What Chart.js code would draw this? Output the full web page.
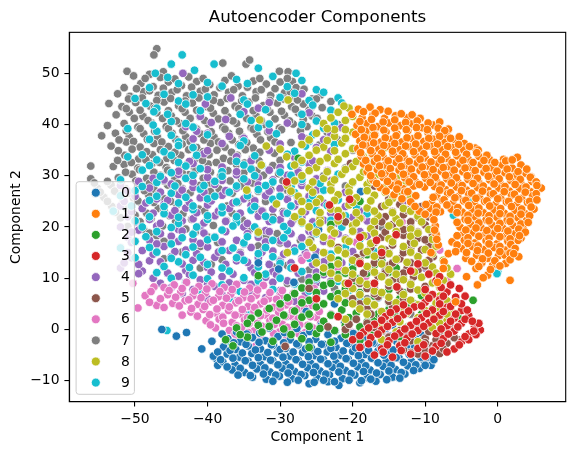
<!DOCTYPE html>
<html><head><meta charset="utf-8">
<script src="https://cdn.jsdelivr.net/npm/chart.js@4.4.1/dist/chart.umd.min.js"></script>
<style>html,body{margin:0;padding:0;background:#fff;}canvas{display:block;}</style>
</head><body>
<canvas id="c" width="574" height="455"></canvas>
<script>
const classLabels = ['0','1','2','3','4','5','6','7','8','9'];
const classColors = ['#1f77b4','#ff7f0e','#2ca02c','#d62728','#9467bd','#8c564b','#e377c2','#7f7f7f','#bcbd22','#17becf'];
const xTicks = [-50,-40,-30,-20,-10,0];
const yTicks = [-10,0,10,20,30,40,50];

const class0 = [
[-46.3,0.0],[-44.3,-1.3],[-42.9,-0.6],[-40.8,-3.8],[-39.4,-2.3],[-38.8,-5.7],[-38.6,-7.0],
[-37.2,-1.8],[-35.5,-2.4],[-33.8,-1.6],[-32.0,-2.2],[-30.3,-1.4],[-28.6,-2.0],[-26.8,-1.2],[-25.1,-1.9],[-23.4,-1.0],[-21.6,-1.7],[-19.9,-0.8],[-18.2,-1.5],[-16.4,-0.6],[-14.7,-1.3],
[-37.8,-3.4],[-36.1,-3.9],[-34.4,-3.2],[-32.7,-3.8],[-30.9,-3.1],[-29.2,-3.7],[-27.5,-3.0],[-25.7,-3.6],[-24.0,-2.9],[-22.3,-3.5],[-20.5,-2.8],[-18.8,-3.4],[-17.1,-2.7],[-15.3,-3.3],[-13.6,-2.6],[-11.9,-3.2],[-10.1,-2.5],
[-39.2,-5.2],[-37.3,-4.8],[-35.6,-5.4],[-33.9,-4.7],[-32.1,-5.3],[-30.4,-4.6],[-28.7,-5.2],[-26.9,-4.5],[-25.2,-5.1],[-23.5,-4.4],[-21.7,-5.0],[-20.0,-4.3],[-18.3,-4.9],[-16.5,-4.2],[-14.8,-4.8],[-13.1,-4.1],[-11.3,-4.7],[-9.6,-5.5],[-8.4,-4.6],
[-37.9,-6.3],[-36.2,-6.9],[-34.4,-6.2],[-32.7,-6.8],[-31.0,-6.1],[-29.2,-6.7],[-27.5,-6.0],[-25.8,-6.6],[-24.0,-5.9],[-22.3,-6.5],[-20.6,-5.8],[-18.8,-6.4],[-17.1,-5.7],[-15.4,-6.3],[-13.6,-5.6],[-11.9,-6.2],[-10.2,-6.0],[-9.2,-7.0],
[-36.6,-7.9],[-34.9,-8.4],[-33.2,-7.7],[-31.4,-8.3],[-29.7,-7.6],[-28.0,-8.2],[-26.2,-7.5],[-24.5,-8.1],[-22.8,-7.4],[-21.0,-8.0],[-19.3,-7.3],[-17.6,-7.9],[-15.8,-7.2],[-14.1,-7.8],[-12.4,-7.1],[-10.8,-7.6],
[-33.8,-9.3],[-31.9,-9.7],[-30.1,-9.1],[-28.4,-9.6],[-26.6,-9.0],[-24.9,-9.5],[-23.2,-8.9],[-21.4,-9.6],[-19.7,-8.9],[-18.0,-9.4],[-16.2,-8.8],[-14.5,-9.3],[-12.8,-8.7],
[-29.0,-10.3],[-26.0,-10.6],[-23.4,-10.2],[-21.9,-10.9],[-19.0,-10.4],[-16.8,-10.1],
[-36.0,-0.5],[-31.5,0.3],[-27.7,0.2],[-24.3,0.8],[-21.1,1.4],[-17.6,1.8],[-14.5,0.9],[-12.3,-1.4],[-10.6,-1.0],
[-36.4,-2.6],[-34.7,-2.9],[-32.9,-2.5],[-31.2,-3.0],[-29.5,-2.6],[-27.7,-2.8],[-26.0,-2.4],[-24.3,-2.9],[-22.5,-2.3],[-20.8,-2.7],[-19.1,-2.2],[-17.3,-2.5],[-15.6,-2.1],[-13.9,-2.4],[-12.1,-2.0],[-10.8,-2.2],
[-38.6,-4.4],[-36.9,-4.1],[-35.2,-4.6],[-33.4,-4.0],[-31.7,-4.5],[-30.0,-3.9],[-28.2,-4.4],[-26.5,-3.8],[-24.8,-4.3],[-23.0,-3.7],[-21.3,-4.2],[-19.6,-3.6],[-17.8,-4.1],[-16.1,-3.5],[-14.4,-4.0],[-12.6,-3.4],[-10.9,-3.9],[-9.3,-3.7],
[-38.2,-5.9],[-36.5,-5.6],[-34.8,-6.1],[-33.0,-5.5],[-31.3,-6.0],[-29.6,-5.4],[-27.8,-5.9],[-26.1,-5.3],[-24.4,-5.8],[-22.6,-5.2],[-20.9,-5.7],[-19.2,-5.1],[-17.4,-5.6],[-15.7,-5.0],[-14.0,-5.5],[-12.2,-4.9],[-10.6,-5.4],[-8.8,-5.9],
[-37.3,-7.3],[-35.5,-7.6],[-33.8,-7.0],[-32.1,-7.5],[-30.3,-6.9],[-28.6,-7.4],[-26.9,-6.8],[-25.1,-7.3],[-23.4,-6.7],[-21.7,-7.2],[-19.9,-6.6],[-18.2,-7.1],[-16.5,-6.5],[-14.7,-7.0],[-13.0,-6.4],[-11.3,-6.9],[-10.0,-7.0],
[-35.8,-8.9],[-34.1,-9.0],[-32.3,-8.7],[-30.6,-8.9],[-28.9,-8.5],[-27.1,-8.8],[-25.4,-8.4],[-23.7,-8.7],[-21.9,-8.3],[-20.2,-8.6],[-18.5,-8.2],[-16.7,-8.5],[-15.0,-8.1],[-13.3,-8.4],[-11.6,-8.0],
[-31.0,-10.1],[-27.5,-9.9],[-25.3,-10.3],[-24.0,-9.9],[-22.5,-10.2],[-20.5,-9.9],[-18.8,-10.0],[-17.5,-9.7],[-15.3,-9.8],[-13.5,-9.5],
[-38.0,-0.9],[-34.6,-0.9],[-32.8,-0.7],[-29.4,-0.6],[-25.9,-0.4],[-22.4,-0.3],[-18.9,0.1],[-15.5,0.2],[-13.4,-0.5],[-11.3,-1.8],
[-18.9,26.9],[-24.7,19.5],[-25.2,14.1],[-28.1,9.2],[-22.5,5.0],[-30.2,11.8],[-26.4,3.5],[-19.5,9.5],[-16.5,6.2],[-21.0,14.8],[-14.0,3.2],[-33.0,13.0]
];

const class1 = [
[-19.2,43.0],[-17.6,43.4],[-16.2,42.9],
[-20.1,42.0],[-18.7,41.3],[-17.2,41.8],[-15.6,41.2],[-14.1,41.7],[-12.5,41.3],[-10.7,41.2],
[-19.4,39.8],[-18.0,40.2],[-16.5,39.6],[-15.0,40.3],[-13.4,39.8],[-11.9,40.1],[-10.4,39.4],[-8.9,39.9],[-6.8,39.1],
[-19.6,38.1],[-18.2,38.7],[-16.9,38.0],[-15.4,38.6],[-13.9,38.2],[-12.4,38.8],[-11.0,38.0],[-9.6,38.4],[-8.1,38.0],[-6.9,37.6],
[-19.0,36.8],[-17.5,37.2],[-16.1,36.6],[-14.6,37.1],[-13.2,36.6],[-11.7,37.2],[-10.2,36.7],[-8.8,37.1],[-7.3,36.5],[-5.8,36.9],[-4.6,36.3],
[-19.3,35.3],[-17.9,35.8],[-16.4,35.2],[-15.0,35.7],[-13.5,35.1],[-12.0,35.6],[-10.6,35.2],[-9.1,35.7],[-7.7,35.1],[-6.2,35.5],[-4.7,35.0],[-3.1,35.4],[-2.7,35.0],
[-18.8,33.8],[-17.3,34.3],[-15.8,33.7],[-14.4,34.2],[-12.9,33.6],[-11.4,34.1],[-10.0,33.5],[-8.5,34.0],[-7.0,33.4],[-5.6,33.9],[-4.1,33.3],[-2.6,33.8],[-1.1,33.1],[0.8,33.2],[2.7,33.6],
[-18.5,32.3],[-17.0,32.8],[-15.5,32.1],[-14.0,32.6],[-12.6,32.0],[-11.1,32.5],[-9.6,31.9],[-8.2,32.4],[-6.7,31.8],[-5.2,32.3],[-3.8,31.7],[-2.3,32.2],[-0.8,31.6],[0.6,32.1],[2.0,31.5],[3.2,32.1],
[-18.0,30.8],[-16.6,31.2],[-15.1,30.6],[-13.6,31.1],[-12.2,30.5],[-10.7,31.0],[-9.2,30.4],[-7.8,30.9],[-6.3,30.3],[-4.8,30.8],[-3.4,30.2],[-1.9,30.7],[-0.4,30.1],[1.0,30.6],[2.5,30.0],[3.9,30.5],[4.6,29.8],
[-17.2,29.2],[-15.8,29.7],[-14.3,29.1],[-12.8,29.6],[-11.4,29.0],[-9.9,29.5],[-8.4,28.9],[-7.0,29.4],[-5.5,28.8],[-4.1,29.3],[-2.6,28.7],[-1.1,29.2],[0.3,28.6],[1.8,29.1],[3.2,28.5],[4.7,28.9],
[-16.2,27.7],[-14.6,28.1],[-13.1,27.5],[-11.6,28.0],[-10.1,27.8],[-8.7,27.9],[-7.2,27.3],[-5.7,27.8],[-4.3,27.2],[-2.8,27.7],[-1.3,27.1],[0.1,27.6],[1.6,27.0],[3.0,27.5],[4.5,26.9],[6.0,27.6],
[-14.3,26.3],[-12.8,26.8],[-11.3,26.1],[-8.4,26.0],[-6.9,26.5],[-5.5,25.9],[-4.0,26.4],[-2.5,25.8],[-1.0,26.3],[0.4,25.7],[1.9,26.2],[3.3,25.6],[4.8,26.1],
[-12.0,24.9],[-9.1,24.7],[-7.6,25.2],[-6.2,24.6],[-4.7,25.1],[-3.2,24.5],[-1.8,25.0],[-0.3,24.4],[1.2,24.9],[2.6,24.3],[4.1,24.8],[5.0,23.5],
[-10.8,23.1],[-9.3,23.6],[-7.9,23.0],[-6.4,23.5],[-4.9,22.9],[-3.5,23.4],[-2.0,22.8],[-0.5,23.3],[0.9,22.7],[2.4,23.2],[3.8,22.6],
[-8.9,22.0],[-4.5,21.5],[-3.1,22.0],[-1.6,21.4],[-0.1,21.9],[1.3,21.3],[2.8,21.8],[4.0,21.3],
[-8.6,20.2],[-5.2,20.0],[-3.7,20.5],[-2.3,19.9],[-0.8,20.4],[0.7,19.8],[2.1,20.3],[3.5,19.7],
[-8.5,18.6],[-4.9,18.4],[-3.4,18.9],[-1.9,18.3],[-0.5,18.8],[1.0,18.2],[2.4,18.7],[3.2,17.8],
[-6.3,17.1],[-4.6,17.4],[-3.1,16.9],[-1.6,17.3],[-0.1,16.7],[1.4,17.2],[2.8,17.4],[-8.2,16.5],
[-5.0,15.8],[-3.5,16.2],[-2.0,15.6],[-0.5,16.0],[1.0,15.5],[2.0,16.1],
[-6.8,14.8],[-4.4,13.9],[-2.9,14.5],[-1.4,13.9],[0.1,14.4],[1.0,14.5],[2.9,14.2],[-9.2,15.0],
[-7.4,13.2],[-2.2,13.0],[-0.7,12.5],[1.1,12.9],
[-7.5,11.9],[-3.0,11.9],[-1.4,10.6],[-2.8,8.7],[-8.3,9.2],[-5.8,5.4],[-4.3,10.3],[1.7,9.6],
[-18.5,42.5],[-16.9,42.2],[-15.1,42.6],[-13.3,42.1],[-11.8,41.9],
[-19.0,40.6],[-17.4,41.0],[-15.8,40.5],[-14.2,40.9],[-12.7,40.4],[-11.1,40.7],[-9.6,40.3],[-8.0,40.5],
[-18.8,39.0],[-17.2,39.4],[-15.7,38.9],[-14.2,39.3],[-12.6,39.0],[-11.2,39.4],[-9.7,39.0],[-8.2,39.3],[-7.3,38.8],
[-18.4,37.5],[-17.0,37.9],[-15.5,37.4],[-14.0,37.8],[-12.5,37.4],[-11.0,37.8],[-9.5,37.3],[-8.0,37.7],[-6.5,37.3],[-5.3,37.6],
[-18.6,36.0],[-17.1,36.4],[-15.7,35.9],[-14.2,36.3],[-12.7,35.8],[-11.3,36.2],[-9.8,35.8],[-8.3,36.2],[-6.9,35.7],[-5.4,36.1],[-3.9,35.7],
[-18.9,34.5],[-17.5,34.9],[-16.0,34.4],[-14.5,34.8],[-13.1,34.3],[-11.6,34.7],[-10.2,34.3],[-8.7,34.7],[-7.2,34.2],[-5.8,34.6],[-4.3,34.2],[-2.9,34.5],[-1.5,34.0],
[-18.2,33.0],[-16.6,33.4],[-15.1,32.9],[-13.6,33.3],[-12.2,32.8],[-10.7,33.2],[-9.2,32.7],[-7.8,33.1],[-6.3,32.6],[-4.8,33.0],[-3.4,32.6],[-1.9,33.0],[-0.4,32.6],[1.1,32.9],[2.0,33.1],
[-17.8,31.5],[-16.3,31.9],[-14.8,31.4],[-13.3,31.8],[-11.9,31.3],[-10.4,31.7],[-8.9,31.2],[-7.5,31.6],[-6.0,31.1],[-4.5,31.5],[-3.1,31.0],[-1.6,31.4],[-0.1,30.9],[1.3,31.3],[2.8,30.8],[4.0,31.3],
[-17.5,30.0],[-16.0,30.4],[-14.5,29.9],[-13.0,30.3],[-11.6,29.8],[-10.1,30.2],[-8.6,29.7],[-7.2,30.1],[-5.7,29.6],[-4.2,30.0],[-2.8,29.5],[-1.3,29.9],[0.2,29.4],[1.6,29.8],[3.1,29.3],[4.5,29.7],[5.3,28.8],
[-16.7,28.5],[-15.2,28.9],[-13.7,28.4],[-12.2,28.8],[-10.8,28.3],[-9.3,28.7],[-7.8,28.2],[-6.4,28.6],[-4.9,28.1],[-3.4,28.5],[-2.0,28.0],[-0.5,28.4],[1.0,27.9],[2.4,28.3],[3.9,27.8],[5.4,28.1],
[-15.4,27.0],[-13.9,27.4],[-12.4,26.9],[-8.0,27.2],[-6.5,26.7],[-5.0,27.1],[-3.6,26.6],[-2.1,27.0],[-0.6,26.5],[0.9,26.9],[2.3,26.4],[3.8,26.8],[5.3,26.5],
[-13.2,25.5],[-8.9,25.8],[-7.4,25.3],[-5.9,25.7],[-4.4,25.2],[-3.0,25.6],[-1.5,25.1],[0.0,25.5],[1.5,25.0],[2.9,25.4],[4.4,25.0],[5.4,25.3],
[-11.4,24.0],[-9.9,24.4],[-8.4,23.9],[-7.0,24.3],[-5.5,23.8],[-4.0,24.2],[-2.6,23.7],[-1.1,24.1],[0.4,23.6],[1.9,24.0],[3.3,23.5],[4.6,23.9],
[-10.0,22.5],[-8.5,22.9],[-5.6,22.8],[-4.1,22.3],[-2.7,22.7],[-1.2,22.2],[0.3,22.6],[1.7,22.1],[3.2,22.5],[4.4,22.2],
[-8.8,21.4],[-5.6,20.9],[-4.1,21.3],[-2.6,20.8],[-1.2,21.2],[0.3,20.7],[1.7,21.1],[3.2,20.6],[4.2,20.9],
[-8.7,19.4],[-4.4,19.4],[-3.0,19.8],[-1.5,19.3],[0.0,19.7],[1.4,19.2],[2.9,19.6],[3.8,19.0],
[-8.4,17.6],[-5.6,18.3],[-4.1,17.9],[-2.6,18.2],[-1.2,17.8],[0.3,18.1],[1.7,17.7],[3.0,18.3],
[-5.6,16.5],[-4.1,16.8],[-2.7,16.3],[-1.2,16.7],[0.3,16.2],[1.8,16.6],[2.4,15.8],
[-5.8,15.2],[-4.3,15.0],[-2.8,15.4],[-1.3,14.9],[0.3,15.2],[1.7,14.9],
[-3.6,13.3],[-2.1,13.8],[-0.4,13.4],[1.7,13.6],[2.2,14.8],
[-2.6,12.3],[-1.0,11.7],[0.3,12.4],[-2.0,10.1]
];

const class2 = [
[-37.5,-2.0],[-34.5,-1.5],[-31.0,-2.3],[-27.0,-1.8],[-23.0,-2.5],[-19.0,-2.1],
[-36.0,0.3],[-33.0,0.8],[-29.5,0.1],[-26.0,0.6],[-22.5,-0.2],[-19.0,0.5],[-16.0,-0.3],[-12.5,0.4],[-9.5,-0.1],
[-34.0,2.2],[-30.5,1.8],[-27.0,2.4],[-24.0,1.6],[-20.5,2.3],[-17.0,1.7],[-14.0,2.5],[-11.0,1.9],[-8.0,2.6],
[-31.5,4.1],[-28.0,3.6],[-25.0,4.4],[-21.5,3.8],[-18.5,4.5],[-15.0,3.9],[-12.0,4.6],[-9.0,4.0],[-6.5,4.8],
[-29.0,6.2],[-26.0,5.7],[-23.0,6.4],[-20.0,5.8],[-17.0,6.5],[-13.5,6.0],[-10.5,6.6],
[-27.0,8.1],[-24.0,8.6],[-21.0,7.9],[-18.0,8.4],[-15.0,7.8],[-12.0,8.5],
[-25.0,10.2],[-22.0,10.7],[-19.5,9.9],[-16.0,10.5],[-13.0,10.0],
[-23.0,12.3],[-20.0,11.8],[-17.0,12.6],[-14.0,12.0],
[-21.0,15.0],[-18.0,14.6],[-13.0,15.4],[-17.0,20.0],[-23.0,20.5],[-19.0,25.0],[-27.5,33.4],
[-3.4,5.7],[-33.0,10.5],[-36.5,-3.2],[-26.0,-3.5],[-11.0,-2.5],[-7.5,-0.8],[-5.5,2.5],
[-35.5,-1.0],[-32.5,-0.5],[-28.5,-1.0],[-25.0,-0.8],[-21.0,-1.0],[-17.5,-1.0],[-34.5,1.2],[-31.5,0.6],[-28.0,1.0],[-24.5,0.2],[-21.0,0.8],[-18.0,1.5],[-15.0,1.0],[-13.5,-1.5],[-10.5,0.5],
[-33.0,3.2],[-29.5,2.8],[-26.0,3.0],[-23.0,2.8],[-19.5,3.2],[-16.5,3.0],[-13.0,3.2],[-10.5,3.0],
[-30.0,5.0],[-27.0,5.2],[-24.0,5.0],[-21.0,5.2],[-18.0,5.0],[-15.0,5.3],[-11.5,5.0],[-8.0,5.0],
[-28.0,7.0],[-25.0,7.2],[-22.0,7.0],[-19.0,7.2],[-16.0,7.0],[-13.0,7.2],
[-26.0,9.2],[-23.0,9.0],[-20.0,9.2],[-17.0,9.0],[-14.0,9.2],
[-24.0,11.2],[-21.0,11.0],[-18.0,11.0],[-15.0,11.2],[-22.0,13.5],[-19.5,13.2],[-16.0,13.5]
];

const class3 = [
[-17.0,-5.0],[-14.5,-5.4],[-12.0,-4.8],[-10.0,-5.2],
[-19.0,-3.5],[-16.0,-3.8],[-13.5,-3.2],[-11.0,-3.7],[-8.5,-3.3],[-6.0,-3.8],
[-20.0,-2.0],[-17.5,-1.6],[-15.0,-2.2],[-12.5,-1.7],[-7.5,-1.8],[-5.0,-2.4],
[-18.5,-0.5],[-16.0,-0.1],[-13.5,-0.7],[-11.0,-0.2],[-8.5,-0.8],[-6.0,-0.3],[-4.0,-0.9],[-2.4,-0.1],
[-17.0,1.0],[-14.5,1.4],[-12.0,0.8],[-9.5,1.3],[-7.0,0.7],[-5.0,1.2],[-3.2,0.6],
[-15.5,2.5],[-13.0,2.9],[-10.5,2.3],[-8.0,2.8],[-6.0,2.2],[-4.0,2.7],
[-14.0,4.0],[-11.5,4.4],[-9.0,3.8],[-7.0,4.3],[-5.0,3.7],
[-10.0,5.3],[-8.0,5.8],[-6.0,5.2],
[-9.0,6.8],[-7.0,7.3],[-13.9,8.3],
[-17.0,9.0],[-8.5,9.5],[-5.3,8.0],[-4.5,6.5],
[-12.0,11.4],[-9.5,10.8],[-11.0,12.8],
[-16.0,15.0],[-16.7,17.4],[-19.0,12.9],[-20.6,9.0],
[-19.0,18.0],[-14.0,18.5],[-22.0,22.0],[-29.1,28.8],[-20.4,25.4],[-23.2,24.3],[-15.1,29.2],[-25.0,6.0],[-22.0,2.5],[-28.0,12.0],
[-15.8,-4.4],[-13.3,-4.1],[-9.0,-4.2],[-7.0,-4.4],
[-17.8,-2.8],[-15.2,-3.0],[-12.8,-2.6],[-10.2,-3.0],[-7.8,-2.7],[-5.3,-3.0],[-4.0,-2.0],
[-19.0,-1.2],[-16.5,-0.9],[-14.2,-1.3],[-11.8,-0.9],[-6.8,-0.9],[-4.5,-1.4],[-3.0,-1.0],
[-17.8,0.3],[-15.2,0.6],[-12.8,0.1],[-10.2,0.6],[-7.8,0.1],[-5.5,0.5],[-3.3,-0.3],[-2.6,1.2],
[-16.0,1.8],[-13.8,2.1],[-11.2,1.6],[-8.8,2.0],[-6.5,1.6],[-4.5,2.0],[-3.5,1.6],
[-14.8,3.3],[-12.3,3.6],[-9.8,3.1],[-7.5,3.5],[-5.8,3.0],[-4.2,3.8],
[-13.0,4.8],[-10.5,4.6],[-8.0,5.0],[-6.5,4.5],[-5.0,5.0],
[-9.5,6.1],[-7.5,6.5],[-5.8,6.3],
[-10.0,7.8],[-7.8,8.2],[-6.5,8.7],[-8.0,10.3]
];

const class4 = [
[-43.4,50.0],[-40.3,44.0],[-36.8,45.2],[-31.5,44.3],[-27.0,46.0],
[-41.0,41.6],[-35.0,42.5],[-26.0,42.3],
[-43.0,39.6],[-39.5,40.4],[-29.0,40.3],[-24.0,39.6],
[-40.0,38.3],[-37.0,37.7],[-27.0,37.6],[-23.0,38.1],
[-42.0,35.5],[-38.0,36.3],[-30.0,36.2],[-25.0,35.5],
[-40.5,34.3],[-36.0,33.7],[-28.0,33.6],
[-42.0,32.4],[-38.0,31.7],[-30.0,31.6],[-26.0,32.3],
[-47.5,29.5],[-44.0,30.3],[-40.0,29.7],[-36.0,30.2],[-33.0,29.6],[-29.0,30.1],[-25.0,29.4],
[-52.0,28.1],[-48.0,27.6],[-45.0,28.4],[-42.0,27.7],[-39.0,28.3],[-36.0,27.6],[-33.0,28.2],[-30.0,27.5],[-27.0,28.1],[-23.0,27.4],
[-50.0,26.0],[-47.0,25.5],[-44.0,26.3],[-41.0,25.7],[-38.0,26.2],[-35.0,25.5],[-32.0,26.1],[-29.0,25.4],[-26.0,26.0],[-22.0,25.4],
[-52.0,24.1],[-49.0,23.6],[-46.0,24.4],[-43.0,23.7],[-40.0,24.3],[-37.0,23.6],[-34.0,24.2],[-31.0,23.5],[-28.0,24.1],[-25.0,23.4],[-21.0,24.0],
[-51.0,22.0],[-48.0,21.5],[-45.0,22.3],[-42.0,21.6],[-39.0,22.2],[-36.0,21.5],[-33.0,22.1],[-30.0,21.4],[-27.0,22.0],[-24.0,21.3],[-20.0,21.9],
[-52.0,20.0],[-49.5,19.4],[-47.0,20.2],[-44.0,19.5],[-41.0,20.1],[-38.0,19.4],[-35.0,20.0],[-32.0,19.3],[-29.0,19.9],[-26.0,19.2],[-23.0,19.8],[-19.0,19.1],
[-51.0,18.0],[-48.0,17.4],[-45.0,18.2],[-42.0,17.5],[-39.0,18.1],[-36.0,17.4],[-33.0,18.0],[-30.0,17.3],[-27.0,17.9],[-24.0,17.2],[-21.0,17.8],
[-52.0,16.0],[-49.0,15.4],[-46.0,16.2],[-43.0,15.5],[-40.0,16.1],[-37.0,15.4],[-34.0,16.0],[-31.0,15.3],[-28.0,15.9],[-25.0,15.2],[-22.0,15.8],[-18.0,15.1],
[-50.5,14.0],[-48.0,13.4],[-45.0,14.2],[-42.0,13.5],[-39.0,14.1],[-36.0,13.4],[-33.0,14.0],[-30.0,13.3],[-27.0,13.9],[-24.0,13.2],[-20.0,13.8],
[-52.0,12.0],[-49.0,11.4],[-46.0,12.2],[-43.0,11.5],[-40.0,12.1],[-37.0,11.4],[-34.0,12.0],[-31.0,11.3],[-28.0,11.9],[-25.0,11.2],[-22.0,11.8],
[-47.5,10.0],[-44.0,10.4],[-41.0,9.7],[-38.0,10.3],[-35.0,9.6],[-32.0,10.2],[-29.0,9.5],[-26.0,10.1],[-23.0,9.4],[-19.0,10.0],
[-45.0,8.2],[-42.0,7.8],[-39.0,8.4],[-36.0,7.7],[-33.0,8.3],[-30.0,7.6],[-27.0,8.2],[-24.0,7.5],
[-40.0,6.0],[-36.0,5.6],[-32.0,6.2],[-28.0,5.5],[-25.0,6.1],
[-15.0,15.0],[-13.0,25.0],[-17.0,8.0],[-10.0,12.0],[-12.0,20.0],[-35.0,3.5],[-38.0,2.5],
[-33.0,43.2],[-37.5,41.0],[-41.5,38.7],[-31.5,38.8],[-21.5,39.4],
[-42.0,37.2],[-35.0,37.3],[-24.0,37.0],
[-40.0,34.9],[-31.5,35.0],[-23.0,34.8],
[-42.5,32.8],[-34.0,32.9],[-25.5,32.9],
[-44.0,30.9],[-40.0,31.2],[-36.0,30.8],[-31.5,31.1],[-27.5,30.7],[-23.5,31.0],
[-49.5,28.9],[-46.0,29.2],[-42.0,28.8],[-38.0,29.1],[-34.5,28.8],[-31.0,29.2],[-27.0,28.9],[-23.0,29.0],
[-51.0,27.0],[-46.5,26.8],[-43.5,27.2],[-40.5,26.8],[-37.5,27.1],[-34.5,26.7],[-31.5,27.0],[-28.5,26.7],[-25.0,27.2],[-21.0,26.8],
[-51.5,25.0],[-48.5,24.7],[-45.5,25.2],[-42.5,24.8],[-39.5,25.1],[-36.5,24.7],[-33.5,25.1],[-30.5,24.7],[-27.5,25.0],[-24.0,24.7],[-20.0,25.0],
[-50.5,23.0],[-47.5,22.7],[-44.5,23.2],[-41.5,22.8],[-38.5,23.1],[-35.5,22.7],[-32.5,23.1],[-29.5,22.7],[-26.5,23.0],[-23.0,22.7],[-19.0,23.1],
[-50.0,21.0],[-46.5,20.7],[-43.5,21.2],[-40.5,20.8],[-37.5,21.1],[-34.5,20.7],[-31.5,21.1],[-28.5,20.7],[-25.5,21.0],[-22.0,20.7],[-18.0,21.2],
[-50.5,19.0],[-46.5,18.7],[-43.5,19.2],[-40.5,18.8],[-37.5,19.1],[-34.5,18.7],[-31.5,19.1],[-28.5,18.7],[-25.5,19.0],[-22.0,18.7],[-18.0,18.2],
[-50.5,17.0],[-47.0,16.7],[-44.0,17.2],[-41.0,16.8],[-38.0,17.1],[-35.0,16.7],[-32.0,17.1],[-29.0,16.7],[-26.0,17.0],[-23.0,16.7],[-19.5,17.0],
[-51.0,15.0],[-47.5,14.7],[-44.5,15.2],[-41.5,14.8],[-38.5,15.1],[-35.5,14.7],[-32.5,15.1],[-29.5,14.7],[-26.5,15.0],[-23.5,14.7],[-20.0,15.2],
[-51.5,13.0],[-49.5,12.7],[-46.5,13.2],[-43.5,12.8],[-40.5,13.1],[-37.5,12.7],[-34.5,13.1],[-31.5,12.7],[-28.5,13.0],[-25.5,12.7],[-21.5,13.0],
[-49.5,10.9],[-45.5,11.0],[-42.5,10.7],[-39.5,11.2],[-36.5,10.8],[-33.5,11.1],[-30.5,10.7],[-27.5,11.0],[-24.0,10.7],[-20.5,11.2],
[-46.5,9.0],[-43.0,9.2],[-40.0,8.8],[-37.0,9.1],[-34.0,8.8],[-31.0,9.2],[-28.0,8.8],[-25.0,9.1],[-21.0,8.8],
[-43.5,7.0],[-38.0,6.8],[-34.0,7.0],[-30.0,6.8],[-26.5,7.0],[-22.5,6.7]
];

const class5 = [
[-12.0,-4.5],[-10.0,-4.1],[-8.0,-4.7],
[-13.5,-3.0],[-11.0,-2.6],[-9.0,-3.2],[-7.0,-2.7],
[-15.0,-1.5],[-12.5,-1.1],[-10.0,-1.7],[-8.0,-1.2],
[-21.0,0.0],[-17.0,0.4],[-13.5,-0.2],[-11.0,0.3],
[-19.5,2.0],[-16.0,2.4],
[-18.0,4.0],[-14.5,4.4],
[-20.0,6.0],[-16.5,6.4],[-13.0,5.8],
[-18.0,8.0],[-15.0,8.5],[-12.0,7.9],[-10.0,8.4],
[-20.0,10.0],[-16.5,10.4],[-13.5,9.8],[-11.6,10.3],
[-18.0,12.0],[-15.0,12.5],[-12.5,11.9],[-10.0,12.4],
[-19.5,14.0],[-16.0,14.4],[-13.5,13.8],[-11.0,14.3],[-8.9,14.2],
[-17.5,16.0],[-14.5,16.5],[-12.0,15.9],[-9.5,16.4],
[-16.0,18.0],[-13.0,18.4],[-11.0,17.8],
[-17.0,20.0],[-14.5,20.5],[-12.0,19.9],[-10.0,20.4],
[-15.5,22.0],[-13.0,22.4],[-11.0,21.8],
[-16.0,24.0],[-13.5,24.4],[-12.5,23.3],
[-13.8,27.1],[-11.5,26.0],[-20.3,32.4],[-17.0,28.0],
[-29.3,-3.3],[-23.4,0.5],[-22.0,16.0],[-24.0,12.0],[-26.0,8.0],[-21.0,21.0],[-9.0,2.0],[-6.5,0.5],[-5.5,-2.0],
[-13.0,-4.0],[-11.0,-4.8],[-9.0,-4.0],[-7.5,-3.8],[-12.0,-2.2],[-10.0,-2.6],[-8.5,-2.0],[-6.0,-1.6],[-14.0,-0.8],[-11.5,-0.6],[-9.5,-0.4],
[-18.0,1.2],[-15.0,1.0],[-20.5,1.0],[-17.5,3.0],[-15.5,3.0],[-19.0,5.0],[-15.0,5.5],[-17.0,7.0],[-13.5,7.5],[-19.0,9.0],[-14.5,9.5],[-12.0,9.0],
[-18.5,11.0],[-15.5,11.0],[-13.0,11.0],[-11.0,11.5],[-17.0,13.0],[-14.5,13.0],[-12.0,13.0],[-9.5,13.5],
[-18.5,15.0],[-15.5,15.5],[-13.0,15.0],[-10.5,15.5],[-17.0,17.0],[-14.5,17.5],[-12.0,17.0],[-10.0,17.5],
[-15.5,19.0],[-13.0,19.5],[-11.0,19.0],[-16.0,21.0],[-14.0,21.5],[-12.0,21.0],[-14.5,23.0],[-12.0,25.0],[-15.0,25.5],[-13.0,26.0],[-10.5,24.0],[-9.5,22.0],[-9.0,18.5]
];

const class6 = [
[-50.3,9.0],[-48.6,6.6],[-49.6,4.2],[-47.0,4.7],[-47.4,8.3],[-46.0,8.2],
[-44.6,8.7],[-42.9,9.2],[-41.2,8.4],[-39.4,8.9],[-37.7,8.2],[-36.0,8.8],[-34.2,8.1],[-32.3,8.6],
[-45.5,6.8],[-43.7,7.3],[-42.0,6.6],[-40.3,7.1],[-38.5,6.4],[-36.8,6.9],[-35.1,6.2],[-33.3,6.7],[-31.6,6.0],[-29.9,6.6],[-28.2,7.0],
[-44.8,5.1],[-43.1,5.6],[-41.3,4.9],[-39.6,5.4],[-37.9,4.7],[-36.1,5.2],[-34.4,4.5],[-32.7,5.0],[-30.9,4.3],[-29.2,4.8],[-27.5,4.1],[-25.6,4.7],
[-42.3,3.4],[-40.6,3.9],[-38.8,3.2],[-37.1,3.7],[-35.4,3.0],[-33.6,3.5],[-31.9,2.8],[-30.2,3.3],[-28.4,2.6],[-26.7,3.1],[-25.0,2.4],
[-40.2,1.7],[-38.4,2.0],[-36.6,1.4],[-34.9,1.9],[-33.1,1.2],[-31.4,1.7],[-29.7,1.0],[-27.9,1.5],[-26.2,0.8],[-24.4,1.2],
[-38.9,0.3],[-37.0,-0.2],[-35.3,0.4],[-33.6,-0.3],[-31.8,0.2],[-30.1,-0.5],[-28.3,0.0],[-26.5,-0.6],
[-35.8,-1.7],[-33.4,-3.3],[-31.0,-2.0],
[-23.0,3.0],[-20.4,5.9],[-18.2,10.3],[-14.1,13.2],[-12.0,18.0],[-8.0,15.5],[-22.0,12.0],[-25.3,8.0],[-16.3,3.4],[-5.6,11.9],[-7.0,9.5],
[-20.0,-0.6],[-10.5,7.5],[-13.2,21.0],[-19.5,17.0],[-27.0,13.5],[-15.5,-0.5],[-11.0,1.5],[-22.9,17.8],[-26.3,14.5],[-18.8,21.7],
[-45.3,7.6],[-43.5,8.0],[-41.8,7.5],[-40.1,7.9],[-38.3,7.4],[-36.6,7.8],[-34.9,7.3],[-33.1,7.7],[-31.4,7.2],[-29.7,7.6],[-47.8,7.4],
[-46.5,6.0],[-44.4,6.3],[-42.6,5.8],[-40.9,6.2],[-39.2,5.7],[-37.4,6.1],[-35.7,5.6],[-34.0,6.0],[-32.2,5.5],[-30.5,5.9],[-28.8,5.4],[-27.0,5.9],[-48.0,5.3],
[-46.0,4.3],[-43.9,4.6],[-42.2,4.1],[-40.4,4.5],[-38.7,4.0],[-37.0,4.4],[-35.2,3.9],[-33.5,4.3],[-31.8,3.8],[-30.0,4.2],[-28.3,3.7],[-26.6,4.1],[-24.6,3.5],
[-43.5,2.8],[-41.4,2.6],[-39.7,2.9],[-37.9,2.4],[-36.2,2.8],[-34.5,2.3],[-32.7,2.7],[-31.0,2.2],[-29.3,2.6],[-27.5,2.1],[-25.8,2.5],
[-39.6,0.9],[-37.8,1.2],[-36.0,0.7],[-34.3,1.1],[-32.5,0.6],[-30.8,1.0],[-29.0,0.4],[-27.3,0.9],[-25.5,0.3],
[-36.2,-0.9],[-34.4,-0.6],[-32.7,-1.1],[-30.9,-0.8],[-29.1,-1.2],[-27.4,-0.9]
];

const class7 = [
[-47.0,54.8],[-47.4,53.6],[-51.1,50.4],[-50.2,49.5],[-48.0,49.8],[-46.1,50.3],[-37.9,52.0],[-34.7,51.8],[-34.2,52.6],[-28.9,50.3],[-28.3,48.4],
[-49.2,48.0],[-47.5,47.4],[-45.4,48.3],[-43.6,47.6],[-41.5,48.4],[-39.7,47.8],[-37.6,48.6],[-35.8,47.5],[-33.7,48.5],[-31.9,47.9],[-30.0,48.3],[-27.8,47.2],
[-52.4,46.0],[-50.7,45.5],[-48.8,46.4],[-46.8,45.7],[-44.9,46.3],[-42.9,45.6],[-41.0,46.5],[-39.1,45.8],[-37.1,46.3],[-35.2,45.6],[-33.3,46.4],[-31.3,45.7],[-29.4,46.2],[-25.6,45.0],[-24.4,45.8],[-28.1,45.4],
[-53.6,44.1],[-51.8,43.5],[-49.9,44.3],[-47.9,43.6],[-46.0,44.4],[-44.0,43.7],[-42.1,44.2],[-40.1,43.5],[-38.2,44.3],[-36.2,43.6],[-34.3,44.4],[-32.3,43.7],[-30.4,44.2],[-28.4,43.5],[-26.8,44.0],[-23.0,44.5],
[-52.6,41.9],[-50.8,42.4],[-48.9,41.6],[-47.0,42.3],[-45.0,41.7],[-43.1,42.4],[-41.1,41.6],[-39.2,42.2],[-37.2,41.5],[-35.3,42.3],[-33.3,41.6],[-31.4,42.4],[-29.4,41.8],[-27.5,42.3],[-25.6,41.7],
[-53.8,39.8],[-51.5,40.2],[-49.6,39.5],[-47.7,40.3],[-45.7,39.6],[-43.8,40.2],[-41.8,39.4],[-39.9,40.1],[-37.9,39.5],[-36.0,40.2],[-34.0,39.4],[-32.1,40.0],[-30.1,39.3],[-28.2,40.1],[-26.3,39.6],[-22.0,40.0],
[-54.6,37.8],[-52.7,38.3],[-50.8,37.6],[-48.8,38.2],[-46.9,37.5],[-44.9,38.3],[-43.0,37.6],[-41.0,38.2],[-39.1,37.5],[-37.1,38.3],[-35.2,37.6],[-33.2,38.1],[-31.3,37.4],[-22.0,37.0],
[-51.2,36.6],[-53.3,35.8],[-49.3,35.6],[-47.4,36.3],[-45.4,35.7],[-43.5,36.2],[-41.5,35.5],[-39.6,36.3],[-37.6,35.6],[-35.7,36.1],[-33.7,35.4],[-28.5,36.5],[-20.0,35.0],
[-51.4,34.0],[-49.5,33.3],[-47.6,34.1],[-45.6,33.4],[-43.7,34.0],[-41.7,33.3],[-39.8,34.1],[-37.8,33.4],[-35.9,34.0],[-33.9,33.3],
[-56.1,31.9],[-53.0,31.8],[-51.5,32.2],[-49.6,31.5],[-47.7,32.3],[-45.7,31.6],[-43.8,32.2],[-41.8,31.5],[-39.9,32.3],[-37.9,31.6],[-36.0,32.2],[-34.0,31.5],[-31.0,32.0],[-27.5,31.0],
[-56.1,29.4],[-52.3,29.6],[-50.4,30.3],[-48.4,29.5],[-46.5,30.1],[-44.5,29.4],[-42.6,30.2],[-40.6,29.5],[-38.2,30.0],[-35.3,29.3],[-32.3,30.1],[-24.0,30.0],
[-55.2,27.6],[-53.3,28.2],[-51.3,27.5],[-49.4,28.1],[-47.4,27.4],[-45.5,28.2],[-43.5,27.5],[-41.1,28.1],[-38.4,27.4],[-35.2,28.0],[-31.3,27.3],[-27.0,28.3],[-21.0,28.0],
[-54.3,25.8],[-52.2,26.4],[-50.2,25.6],[-48.1,26.2],[-46.0,25.5],[-43.9,26.3],[-41.0,25.6],[-38.0,26.2],[-34.0,25.5],[-30.0,26.0],
[-53.2,24.0],[-51.1,23.5],[-49.0,24.2],[-46.8,23.6],[-44.2,24.3],[-41.2,23.5],[-37.3,24.1],[-33.1,23.4],[-28.2,24.0],
[-52.0,21.8],[-50.0,22.3],[-47.8,21.6],[-45.2,22.2],[-42.2,21.5],[-39.0,22.1],[-35.2,21.4],[-31.0,22.0],
[-51.0,20.1],[-48.8,19.5],[-46.2,20.2],[-43.0,19.6],[-39.2,20.3],[-34.2,19.5],[-29.0,20.0],[-26.0,20.0],
[-47.0,18.3],[-40.1,18.2],[-32.0,18.1],[-27.2,17.4],[-23.0,17.0],
[-48.0,16.1],[-41.0,16.2],[-33.0,16.3],[-28.0,15.7],
[-46.0,13.8],[-38.0,13.6],[-30.0,13.5],
[-41.0,12.0],[-31.0,12.2],[-26.0,11.6],
[-8.9,16.3],[-16.0,20.0],[-19.0,14.0],[-29.0,9.0],[-33.0,10.0],[-12.0,3.0],[-18.0,6.0],[-55.5,26.5],[-2.9,21.5],
[-48.6,49.0],[-46.5,49.2],[-44.5,48.9],[-42.6,49.3],[-40.6,49.0],[-36.7,49.5],[-32.8,49.0],[-30.1,50.4],[-29.0,49.0],
[-51.5,47.2],[-49.8,47.0],[-48.0,46.6],[-46.1,47.1],[-44.2,46.8],[-42.2,47.3],[-40.3,46.9],[-38.3,47.2],[-36.4,46.8],[-34.5,47.3],[-32.6,46.8],[-30.7,47.0],[-28.6,46.4],[-26.7,46.9],[-25.0,45.0],
[-50.9,45.0],[-49.0,45.2],[-47.0,44.7],[-45.1,45.1],[-43.1,44.6],[-41.2,45.2],[-39.2,44.7],[-37.3,45.1],[-35.3,44.6],[-33.4,45.2],[-31.4,44.7],[-29.5,45.0],[-27.6,44.8],[-25.8,43.2],
[-51.2,43.1],[-49.3,42.8],[-47.3,43.2],[-45.4,42.7],[-43.5,43.1],[-41.5,42.8],[-39.6,43.2],[-37.6,42.7],[-35.7,43.1],[-33.7,42.7],[-31.8,43.1],[-29.8,42.6],[-27.9,43.0],[-26.0,42.8],[-24.2,43.3],
[-50.1,41.2],[-48.2,40.8],[-46.2,41.2],[-44.3,40.7],[-42.4,41.2],[-40.4,40.8],[-38.5,41.1],[-36.5,40.7],[-34.6,41.2],[-32.6,40.8],[-30.7,41.1],[-28.7,40.7],[-26.8,41.0],[-24.9,41.2],
[-51.2,38.8],[-49.3,39.2],[-47.3,38.7],[-45.4,39.2],[-43.4,38.8],[-41.5,39.1],[-39.5,38.6],[-37.6,39.1],[-35.6,38.7],[-33.7,39.1],[-31.7,38.6],[-29.8,39.0],[-27.2,38.8],
[-52.2,37.0],[-50.2,36.7],[-48.3,37.1],[-46.3,36.6],[-44.4,37.1],[-42.4,36.7],[-40.5,37.0],[-38.5,36.6],[-36.6,37.0],[-34.6,36.5],[-32.7,37.0],[-30.7,36.6],[-26.5,37.2],
[-52.3,34.9],[-50.4,35.2],[-48.4,34.7],[-46.5,35.1],[-44.5,34.6],[-42.6,35.1],[-40.6,34.7],[-38.7,35.0],[-36.7,34.6],[-34.8,35.1],[-32.8,34.6],[-30.8,34.4],[-24.6,36.0],
[-52.4,33.0],[-50.5,32.6],[-48.5,33.1],[-46.6,32.6],[-44.6,33.0],[-42.7,32.5],[-40.7,33.0],[-38.8,32.6],[-36.8,32.9],[-34.9,32.5],[-32.9,32.9],[-30.0,33.0],
[-51.3,30.7],[-49.4,31.2],[-47.4,30.7],[-45.5,31.1],[-43.5,30.6],[-41.6,31.1],[-39.6,30.7],[-37.2,31.0],[-35.0,30.6],[-33.2,31.0],[-30.2,30.4],
[-55.6,28.6],[-53.8,28.9],[-51.9,28.6],[-49.9,29.0],[-48.0,28.5],[-46.0,29.0],[-44.1,28.5],[-42.1,29.0],[-39.6,28.6],[-36.9,29.0],[-33.8,28.6],[-29.6,29.0],
[-54.8,26.8],[-52.8,27.0],[-50.8,26.6],[-48.7,27.1],[-46.7,26.6],[-44.7,27.0],[-42.4,26.7],[-39.6,26.9],[-36.6,26.6],[-33.0,27.0],[-29.0,27.2],
[-53.8,25.0],[-51.7,24.8],[-49.6,25.1],[-47.4,24.8],[-45.1,25.0],[-42.6,24.7],[-39.6,25.1],[-35.8,24.8],[-32.0,25.0],[-27.6,25.8],
[-52.7,22.9],[-50.5,23.0],[-48.4,22.7],[-46.0,23.1],[-43.4,22.6],[-40.4,23.1],[-36.6,22.7],[-32.4,23.1],[-29.6,23.0],
[-49.3,21.0],[-44.4,21.1],[-37.4,21.2],[-28.2,21.4],
[-48.0,18.8],[-41.7,19.0],[-33.0,19.2],[-30.4,18.7],
[-46.0,17.2],[-38.6,17.0],[-30.0,16.9],[-25.8,17.5],
[-43.5,15.1],[-35.5,15.0],[-26.6,14.6],
[-39.5,12.7],[-29.0,12.5],[-23.5,12.8],
[-23.5,38.5],[-21.0,31.5],[-25.0,32.5],[-19.5,21.0],[-22.5,8.0],[-15.5,11.5],[-27.0,9.8]
];

const class8 = [
[-22.0,42.4],[-20.5,43.2],[-21.2,43.6],
[-24.0,40.2],[-21.0,40.8],[-19.0,39.6],
[-25.0,38.3],[-22.5,37.7],[-20.0,38.5],[-17.5,37.8],
[-27.0,36.1],[-24.0,35.6],[-21.5,36.4],[-19.0,35.8],[-16.5,36.2],
[-26.0,34.0],[-23.5,33.5],[-21.0,34.3],[-18.5,33.7],[-16.0,34.1],
[-28.0,32.1],[-25.0,31.6],[-22.5,32.4],[-20.0,31.8],[-17.5,32.3],[-15.0,31.5],
[-27.0,30.0],[-24.0,29.5],[-21.5,30.3],[-19.0,29.7],[-16.5,30.2],[-14.0,29.6],
[-29.0,28.1],[-26.0,27.6],[-23.0,28.4],[-20.5,27.8],[-18.0,28.3],[-15.5,27.7],[-13.0,28.2],
[-27.5,26.0],[-24.5,25.5],[-22.0,26.3],[-19.5,25.7],[-17.0,26.2],[-14.5,25.6],[-12.0,26.1],
[-26.0,24.0],[-23.0,23.5],[-20.5,24.3],[-18.0,23.7],[-15.5,24.2],[-13.0,23.6],
[-28.0,22.0],[-24.5,21.5],[-21.5,22.3],[-19.0,21.7],[-16.5,22.2],[-14.0,21.6],[-11.0,22.1],
[-26.0,20.0],[-23.0,19.5],[-20.0,20.3],[-17.5,19.7],[-15.0,20.2],[-12.0,19.6],
[-24.0,18.0],[-21.0,17.5],[-18.5,18.3],[-15.0,17.7],[-12.0,18.2],[-9.0,17.6],
[-25.5,16.0],[-22.0,15.5],[-19.0,16.3],[-16.0,15.7],[-13.0,16.2],[-10.0,15.6],
[-23.0,14.0],[-20.0,13.5],[-17.0,14.3],[-14.0,13.7],[-11.0,14.2],[-7.5,13.5],
[-24.0,12.0],[-21.0,11.5],[-18.0,12.3],[-15.0,11.7],[-9.0,12.2],[-6.5,10.8],
[-22.0,10.0],[-19.0,9.5],[-16.0,10.3],[-13.0,9.7],[-10.5,10.2],[-7.5,9.6],
[-20.0,8.0],[-17.0,7.5],[-14.0,8.3],[-11.0,7.7],[-8.0,8.2],
[-22.0,6.0],[-18.0,5.5],[-15.0,6.3],[-12.0,5.7],[-9.0,6.2],[-7.0,5.6],
[-19.0,4.0],[-16.0,3.5],[-13.0,4.3],[-10.0,3.7],[-8.0,4.2],
[-21.0,2.0],[-13.5,1.5],[-11.0,2.3],[-7.0,1.7],
[-18.0,0.0],[-14.0,-0.5],[-9.0,0.3],[-6.0,-0.3],
[-16.0,-2.0],[-11.0,-2.4],
[-28.9,44.8],[-32.8,40.9],[-31.9,35.8],[-30.0,35.2],[-29.1,33.7],[-34.6,27.2],[-32.6,32.1],[-30.5,24.5],[-33.0,19.0],[-29.0,15.0],
[-23.0,41.3],[-20.0,41.6],[-22.5,39.0],
[-23.5,39.2],[-21.0,39.0],[-18.5,38.9],
[-26.0,37.0],[-23.5,36.9],[-21.0,37.3],[-18.5,36.8],
[-25.0,35.0],[-22.5,34.9],[-20.0,35.3],[-17.5,34.8],[-15.5,35.5],
[-27.0,33.0],[-24.5,32.8],[-22.0,33.2],[-19.5,32.8],[-17.0,33.1],
[-26.0,31.0],[-23.5,30.8],[-21.0,31.2],[-18.5,30.8],[-16.0,31.1],
[-28.0,29.0],[-25.5,28.8],[-22.5,29.2],[-20.0,28.8],[-17.5,29.1],[-15.0,28.8],
[-28.5,27.0],[-25.5,26.8],[-23.0,27.2],[-20.5,26.8],[-18.0,27.1],[-15.5,26.8],[-13.5,27.0],
[-27.0,25.0],[-25.0,24.8],[-22.5,25.2],[-20.0,24.8],[-17.5,25.1],[-15.0,24.8],
[-27.0,23.0],[-24.5,22.8],[-22.0,23.2],[-19.5,22.8],[-17.0,23.1],[-14.5,22.8],[-12.0,23.1],
[-27.0,21.0],[-24.5,20.8],[-22.0,21.2],[-19.5,20.8],[-17.0,21.1],[-13.5,20.8],[-10.5,21.0],
[-25.0,19.0],[-22.5,18.8],[-20.0,19.2],[-17.0,18.8],[-14.0,19.1],[-11.0,18.8],[-9.5,19.5],
[-26.0,17.0],[-23.0,16.8],[-20.5,17.2],[-17.5,16.8],[-14.5,17.1],[-11.5,16.8],[-8.5,16.2],
[-24.0,15.0],[-21.0,14.8],[-18.0,15.2],[-15.0,14.8],[-12.0,15.1],[-9.0,14.8],
[-25.0,13.0],[-22.0,12.8],[-19.0,13.2],[-16.0,12.8],[-12.5,13.1],[-10.0,13.0],[-7.0,12.0],
[-23.0,11.0],[-20.0,10.8],[-17.0,11.2],[-14.0,10.8],[-11.5,11.2],[-8.5,11.0],
[-21.0,9.0],[-18.0,8.8],[-15.0,9.2],[-12.0,8.8],[-9.0,9.1],
[-21.0,7.0],[-19.0,6.8],[-16.0,7.2],[-13.0,6.8],[-10.0,7.1],[-8.0,6.5],
[-20.0,5.0],[-17.0,4.8],[-14.0,5.2],[-11.0,4.8],[-8.5,5.1],[-6.5,4.0],
[-18.0,3.0],[-15.0,2.8],[-12.5,3.2],[-9.0,2.8],[-7.0,3.0],
[-16.0,1.0],[-12.0,0.8],[-8.0,1.2],[-5.5,0.5]
];

const class9 = [
[-43.5,53.6],[-41.8,50.6],[-39.1,51.8],[-27.8,50.0],
[-45.5,49.2],[-36.0,48.8],[-31.0,49.4],
[-48.0,47.2],[-38.0,47.5],[-29.0,47.4],[-25.0,46.8],
[-50.0,45.1],[-44.0,44.6],[-40.0,45.4],[-35.0,44.8],[-30.0,45.3],[-26.0,44.7],[-22.0,45.2],
[-47.0,43.2],[-41.0,42.7],[-32.0,42.9],[-23.0,42.8],
[-45.0,40.6],[-34.0,40.8],[-25.0,40.7],
[-51.0,39.2],[-47.0,38.7],[-42.0,39.5],[-33.0,39.4],[-24.0,39.3],
[-48.0,37.1],[-44.0,36.6],[-35.0,36.8],[-26.0,36.7],[-21.0,37.2],
[-46.0,34.7],[-42.0,35.5],[-28.0,34.8],
[-51.0,33.7],[-47.0,33.1],[-44.0,32.6],[-36.0,32.8],[-27.0,32.7],
[-49.0,31.1],[-45.0,30.6],[-41.0,31.4],[-38.0,30.8],[-34.0,31.3],[-30.0,30.7],
[-52.0,29.2],[-47.0,28.7],[-43.0,29.5],[-39.0,28.9],[-35.0,29.4],[-31.0,28.8],[-27.0,29.3],[-20.0,28.7],
[-50.0,27.1],[-45.0,26.6],[-41.0,27.4],[-37.0,26.8],[-33.0,27.3],[-28.0,26.7],[-24.0,27.2],
[-48.0,25.2],[-44.0,24.7],[-40.0,25.5],[-36.0,24.9],[-31.0,25.4],[-26.0,24.8],[-22.0,25.3],
[-53.0,23.1],[-46.0,22.6],[-42.0,23.4],[-38.0,22.8],[-34.0,23.3],[-29.0,22.7],[-25.0,23.2],[-18.0,22.6],
[-50.0,21.2],[-44.0,20.7],[-40.0,21.5],[-36.0,20.9],[-31.0,21.4],[-27.0,20.8],[-23.0,21.3],
[-47.0,19.1],[-42.0,18.6],[-38.0,19.4],[-33.0,18.8],[-29.0,19.3],[-25.0,18.7],[-20.0,19.2],
[-50.0,17.2],[-45.0,16.7],[-40.0,17.5],[-35.0,16.9],[-31.0,17.4],[-26.0,16.8],
[-47.0,15.1],[-43.0,14.6],[-38.0,15.4],[-33.0,14.8],[-28.0,15.3],[-23.0,14.7],[-17.0,15.2],
[-44.0,13.2],[-40.0,12.7],[-35.0,13.5],[-30.0,12.9],[-25.0,13.4],[-20.0,12.8],
[-47.0,11.1],[-42.0,10.6],[-37.0,11.4],[-32.0,10.8],[-27.0,11.3],
[-43.0,9.2],[-38.0,8.7],[-33.0,9.5],[-28.0,8.9],[-22.0,9.4],
[-37.0,6.1],[-30.0,5.6],[-25.0,6.4],[-19.0,5.8],
[-34.0,3.0],[-29.0,2.6],
[-45.6,-0.2],[-4.0,24.9],[0.0,11.3],[-14.0,10.0],[-36.9,-2.4],[-6.1,22.3],[-4.1,16.7],[-0.1,10.9],
[-45.0,51.8],[-33.0,51.0],[-47.2,50.0],[-47.4,42.5],
[-44.0,48.0],[-40.0,48.2],[-34.5,48.0],[-27.0,48.6],
[-46.0,45.9],[-42.0,45.8],[-28.0,46.1],[-24.0,46.3],
[-48.5,44.1],[-43.0,44.0],[-34.5,44.0],[-25.5,43.8],[-21.5,44.2],
[-45.5,42.0],[-35.5,42.0],[-27.0,42.0],
[-47.5,39.9],[-43.0,40.2],[-31.5,40.1],[-27.0,40.0],[-22.5,40.3],
[-45.0,37.9],[-40.0,38.0],[-30.5,38.2],[-25.5,38.0],
[-44.0,35.9],[-35.5,35.9],[-26.5,35.8],[-22.5,36.1],
[-49.0,34.1],[-45.0,34.0],[-41.5,34.0],[-33.5,33.9],[-29.0,34.2],
[-48.0,32.0],[-43.0,31.9],[-35.0,32.1],[-32.5,32.0],[-28.5,31.9],
[-46.5,29.9],[-42.0,30.1],[-38.0,29.9],[-33.5,30.0],[-28.5,30.1],[-22.0,30.3],
[-49.0,27.9],[-44.5,28.0],[-40.5,28.1],[-36.0,28.0],[-32.0,28.1],[-28.5,27.9],[-24.5,28.5],
[-52.0,26.1],[-47.0,26.0],[-43.0,25.8],[-39.0,26.0],[-34.5,26.1],[-30.0,26.0],[-25.5,26.1],
[-50.5,24.1],[-46.0,24.0],[-42.0,24.1],[-38.0,23.9],[-33.5,24.0],[-28.5,24.1],[-23.5,24.2],[-19.5,24.0],
[-48.0,22.0],[-44.0,21.9],[-40.0,22.2],[-36.0,22.0],[-32.0,22.1],[-27.5,21.9],[-21.0,22.2],
[-49.0,20.0],[-45.0,19.9],[-41.5,20.0],[-36.5,20.2],[-33.5,20.0],[-29.5,20.1],[-25.0,20.2],[-21.5,20.0],
[-48.5,18.1],[-43.5,17.9],[-39.0,18.0],[-34.5,18.1],[-29.5,17.9],[-24.0,18.0],[-19.0,17.6],
[-52.0,15.9],[-48.0,16.0],[-42.0,16.1],[-36.5,15.9],[-32.0,16.0],[-27.0,16.2],[-21.0,16.0],
[-50.0,14.0],[-45.0,13.9],[-41.0,14.1],[-36.0,14.0],[-31.0,14.2],[-26.0,13.9],
[-46.0,12.3],[-42.5,12.1],[-38.0,12.0],[-33.0,12.2],[-28.5,12.0],[-23.0,11.8],
[-45.0,10.0],[-40.0,9.9],[-35.0,10.1],[-30.0,10.0],[-25.0,9.9],
[-41.0,7.6],[-35.5,7.4],[-31.0,7.8],[-26.0,7.5],[-20.5,7.6]
];

const allClasses = [class0,class1,class2,class3,class4,class5,class6,class7,class8,class9];
// Chart.js paints the first dataset last (on top): orange on top, gray at the bottom
const stackOrder = [1,3,8,5,2,0,6,9,4,7];

const FONT = 'DejaVu Sans';
Chart.defaults.font.family = FONT;
Chart.defaults.color = '#000000';

const datasets = stackOrder.map(k => ({
  label: classLabels[k],
  data: allClasses[k].map(p => ({x: p[0], y: p[1]})),
  pointBackgroundColor: classColors[k],
  backgroundColor: classColors[k],
  pointBorderColor: '#ffffff',
  pointBorderWidth: 0.8,
  pointRadius: 4.3,
  pointHoverRadius: 4.3
}));

const frameLegend = {
  id: 'frameLegend',
  afterDatasetsDraw(chart) {
    const {ctx, chartArea: a} = chart;
    ctx.save();
    ctx.strokeStyle = '#000000';
    ctx.lineWidth = 1.1;
    ctx.strokeRect(a.left, a.top, a.right - a.left, a.bottom - a.top);
    const rowH = 21.1, bw = 58.3, bh = 212.6;
    const bx = a.left + 6.8, by = a.bottom - 7.4 - bh, r = 2.8;
    ctx.beginPath();
    ctx.moveTo(bx + r, by);
    ctx.lineTo(bx + bw - r, by); ctx.arcTo(bx + bw, by, bx + bw, by + r, r);
    ctx.lineTo(bx + bw, by + bh - r); ctx.arcTo(bx + bw, by + bh, bx + bw - r, by + bh, r);
    ctx.lineTo(bx + r, by + bh); ctx.arcTo(bx, by + bh, bx, by + bh - r, r);
    ctx.lineTo(bx, by + r); ctx.arcTo(bx, by, bx + r, by, r);
    ctx.closePath();
    ctx.fillStyle = 'rgba(255,255,255,0.8)';
    ctx.fill();
    ctx.strokeStyle = '#cccccc';
    ctx.lineWidth = 1;
    ctx.stroke();
    ctx.font = '13.9px "' + FONT + '"';
    ctx.textBaseline = 'middle';
    ctx.textAlign = 'left';
    classLabels.forEach((lab, i) => {
      const cy = by + 11 + i * rowH;
      ctx.beginPath();
      ctx.arc(bx + 19.7, cy, 4.5, 0, Math.PI * 2);
      ctx.fillStyle = classColors[i];
      ctx.fill();
      ctx.strokeStyle = '#ffffff';
      ctx.lineWidth = 0.8;
      ctx.stroke();
      ctx.fillStyle = '#000000';
      ctx.fillText(lab, bx + 45, cy + 0.5);
    });
    ctx.restore();
  }
};

const minusFmt = v => String(v).replace('-', '\u2212');
const axisCommon = {
  type: 'linear',
  border: {display: true, color: '#000000', width: 1.1},
  grid: {display: true, drawOnChartArea: false, drawTicks: true, tickLength: 4.9, color: '#000000', lineWidth: 1.1},
  ticks: {font: {size: 13.9, family: FONT}, color: '#000000', padding: 4.9, callback: minusFmt, autoSkip: false, maxRotation: 0}
};

new Chart(document.getElementById('c'), {
  type: 'scatter',
  data: {datasets},
  options: {
    responsive: false,
    animation: false,
    events: [],
    layout: {padding: {left: 0, right: 8.3, top: 0, bottom: 0}},
    scales: {
      x: Object.assign({}, axisCommon, {
        position: 'bottom', min: -59.06, max: 9.37,
        afterBuildTicks: s => { s.ticks = xTicks.map(v => ({value: v})); },
        afterFit: s => { s.height = 53.3; },
        title: {display: true, text: 'Component 1', font: {size: 13.9, family: FONT}, color: '#000000', padding: {top: 0, bottom: 9.7}}
      }),
      y: Object.assign({}, axisCommon, {
        position: 'left', min: -14.1, max: 58.0,
        afterBuildTicks: s => { s.ticks = yTicks.map(v => ({value: v})); },
        afterFit: s => { s.width = 69.3; },
        title: {display: true, text: 'Component 2', font: {size: 13.9, family: FONT}, color: '#000000', padding: {top: 8.2, bottom: 0}}
      })
    },
    plugins: {
      legend: {display: false},
      tooltip: {enabled: false},
      title: {display: true, text: 'Autoencoder Components', fullSize: false, color: '#000000',
        font: {size: 16.7, weight: 'normal', family: FONT}, padding: {top: 8, bottom: 4.3}}
    }
  },
  plugins: [frameLegend]
});
</script>
</body></html>
